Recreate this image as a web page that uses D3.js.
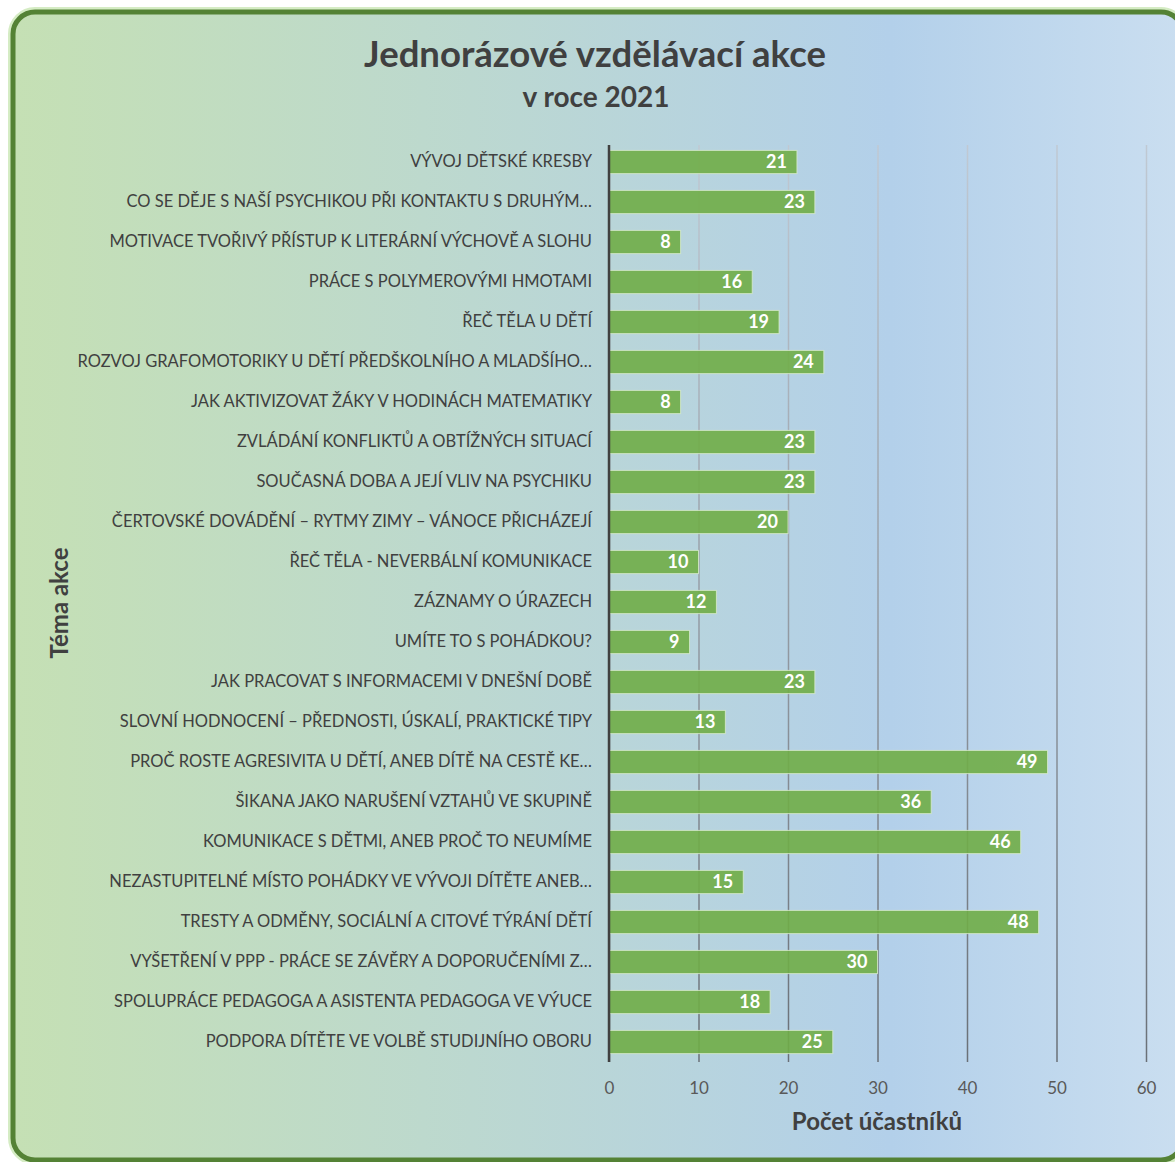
<!DOCTYPE html>
<html>
<head>
<meta charset="utf-8">
<script src="https://cdn.jsdelivr.net/npm/d3@7"></script>
<style>
  body { margin: 0; background: #fff; }
  svg { display: block; }
</style>
</head>
<body>
<div id="chart"></div>
<script>
const topics = [
    'VÝVOJ DĚTSKÉ KRESBY',
    'CO SE DĚJE S NAŠÍ PSYCHIKOU PŘI KONTAKTU S DRUHÝM…',
    'MOTIVACE TVOŘIVÝ PŘÍSTUP K LITERÁRNÍ VÝCHOVĚ A SLOHU',
    'PRÁCE S POLYMEROVÝMI HMOTAMI',
    'ŘEČ TĚLA U DĚTÍ',
    'ROZVOJ GRAFOMOTORIKY U DĚTÍ PŘEDŠKOLNÍHO A MLADŠÍHO…',
    'JAK AKTIVIZOVAT ŽÁKY V HODINÁCH MATEMATIKY',
    'ZVLÁDÁNÍ KONFLIKTŮ A OBTÍŽNÝCH SITUACÍ',
    'SOUČASNÁ DOBA A JEJÍ VLIV NA PSYCHIKU',
    'ČERTOVSKÉ DOVÁDĚNÍ – RYTMY ZIMY – VÁNOCE PŘICHÁZEJÍ',
    'ŘEČ TĚLA - NEVERBÁLNÍ KOMUNIKACE',
    'ZÁZNAMY O ÚRAZECH',
    'UMÍTE TO S POHÁDKOU?',
    'JAK PRACOVAT S INFORMACEMI V DNEŠNÍ DOBĚ',
    'SLOVNÍ HODNOCENÍ – PŘEDNOSTI, ÚSKALÍ, PRAKTICKÉ TIPY',
    'PROČ ROSTE AGRESIVITA U DĚTÍ, ANEB DÍTĚ NA CESTĚ KE…',
    'ŠIKANA JAKO NARUŠENÍ VZTAHŮ VE SKUPINĚ',
    'KOMUNIKACE S DĚTMI, ANEB PROČ TO NEUMÍME',
    'NEZASTUPITELNÉ MÍSTO POHÁDKY VE VÝVOJI DÍTĚTE ANEB…',
    'TRESTY A ODMĚNY, SOCIÁLNÍ A CITOVÉ TÝRÁNÍ DĚTÍ',
    'VYŠETŘENÍ V PPP - PRÁCE SE ZÁVĚRY A DOPORUČENÍMI Z…',
    'SPOLUPRÁCE PEDAGOGA A ASISTENTA PEDAGOGA VE VÝUCE',
    'PODPORA DÍTĚTE VE VOLBĚ STUDIJNÍHO OBORU'
];
const participants = [21, 23, 8, 16, 19, 24, 8, 23, 23, 20, 10, 12, 9, 23, 13, 49, 36, 46, 15, 48, 30, 18, 25];
const xTicks = [0, 10, 20, 30, 40, 50, 60];

const titleText = 'Jednorázové vzdělávací akce';
const subtitleText = 'v roce 2021';
const xTitle = 'Počet účastníků';
const yTitle = 'Téma akce';

const W = 1175, H = 1162;
const plot = { left: 609, right: 1146, top: 142, bottom: 1062 };
const gridTop = 145;
const font = 'Lato, "Open Sans", sans-serif';

const svg = d3.select('#chart').append('svg')
    .attr('width', W)
    .attr('height', H);

const defs = svg.append('defs');

// background gradient of the card
const bg = defs.append('linearGradient')
    .attr('id', 'bgGrad')
    .attr('x1', '0%').attr('y1', '0%')
    .attr('x2', '100%').attr('y2', '0%');
bg.append('stop').attr('offset', '0%').attr('stop-color', '#c5e0b4');
bg.append('stop').attr('offset', '35%').attr('stop-color', '#bdd9cd');
bg.append('stop').attr('offset', '75%').attr('stop-color', '#b3d0ea');
bg.append('stop').attr('offset', '100%').attr('stop-color', '#cadef0');

// gridlines get darker towards the bottom (tick-local coordinates)
const gg = defs.append('linearGradient')
    .attr('id', 'gridGrad')
    .attr('gradientUnits', 'userSpaceOnUse')
    .attr('x1', 0).attr('y1', -(plot.bottom - gridTop))
    .attr('x2', 0).attr('y2', 0);
gg.append('stop').attr('offset', '0%').attr('stop-color', '#c0c9d3');
gg.append('stop').attr('offset', '100%').attr('stop-color', '#6a7077');

// soft glow + card
svg.append('rect')
    .attr('x', 13).attr('y', 12)
    .attr('width', 1170).attr('height', 1148)
    .attr('rx', 22)
    .attr('fill', 'none')
    .attr('stroke', '#d5ecc4')
    .attr('stroke-width', 10);

svg.append('rect')
    .attr('x', 13).attr('y', 12)
    .attr('width', 1170).attr('height', 1148)
    .attr('rx', 22)
    .attr('fill', 'url(#bgGrad)')
    .attr('stroke', '#548235')
    .attr('stroke-width', 5);

// scales
const x = d3.scaleLinear()
    .domain([0, 60])
    .range([plot.left, plot.right]);

const y = d3.scaleBand()
    .domain(topics)
    .range([plot.top, plot.bottom])
    .paddingInner(0.42)
    .paddingOuter(0.21);

const data = topics.map((t, i) => ({ topic: t, value: participants[i] }));

// x axis with gridlines (behind the bars)
const xAxis = svg.append('g')
    .attr('transform', `translate(0, ${plot.bottom})`)
    .call(d3.axisBottom(x)
        .tickValues(xTicks)
        .tickSize(-(plot.bottom - gridTop))
        .tickPadding(20));
xAxis.select('.domain').remove();
xAxis.selectAll('.tick line')
    .attr('stroke', 'url(#gridGrad)')
    .attr('stroke-width', 1.5);
xAxis.selectAll('.tick text')
    .attr('fill', '#595959')
    .style('font-family', font)
    .style('font-size', '17px');

// bars
svg.append('g').selectAll('rect')
    .data(data)
    .enter()
    .append('rect')
    .attr('x', x(0))
    .attr('y', d => y(d.topic))
    .attr('width', d => x(d.value) - x(0))
    .attr('height', y.bandwidth())
    .attr('fill', '#70ad47')
    .attr('fill-opacity', 0.9)
    .attr('stroke', '#d9ecd0')
    .attr('stroke-opacity', 0.8)
    .attr('stroke-width', 1);

// y axis
const yAxis = svg.append('g')
    .attr('transform', `translate(${plot.left}, 0)`)
    .call(d3.axisLeft(y).tickSize(0).tickSizeOuter(0).tickPadding(17));
yAxis.select('.domain')
    .attr('stroke', '#404040')
    .attr('stroke-width', 2.5)
    .attr('d', `M0,${gridTop}V${plot.bottom}`);
yAxis.selectAll('.tick text')
    .attr('fill', '#404040')
    .style('font-family', font)
    .style('font-size', '16.5px');

// value labels
svg.append('g').selectAll('text')
    .data(data)
    .enter()
    .append('text')
    .attr('x', d => x(d.value) - 10)
    .attr('y', d => y(d.topic) + y.bandwidth() / 2)
    .attr('dy', '0.36em')
    .attr('text-anchor', 'end')
    .attr('fill', '#ffffff')
    .style('font-family', font)
    .style('font-weight', 'bold')
    .style('font-size', '18px')
    .text(d => d.value);

// titles
svg.append('text')
    .attr('x', 595).attr('y', 67)
    .attr('text-anchor', 'middle')
    .attr('fill', '#404040')
    .style('font-family', font)
    .style('font-weight', 'bold')
    .style('font-size', '36.5px')
    .text(titleText);

svg.append('text')
    .attr('x', 596).attr('y', 107)
    .attr('text-anchor', 'middle')
    .attr('fill', '#404040')
    .style('font-family', font)
    .style('font-weight', 'bold')
    .style('font-size', '28px')
    .text(subtitleText);

svg.append('text')
    .attr('x', 877).attr('y', 1130)
    .attr('text-anchor', 'middle')
    .attr('fill', '#404040')
    .style('font-family', font)
    .style('font-weight', 'bold')
    .style('font-size', '24px')
    .text(xTitle);

svg.append('text')
    .attr('transform', 'translate(68, 603) rotate(-90)')
    .attr('text-anchor', 'middle')
    .attr('fill', '#404040')
    .style('font-family', font)
    .style('font-weight', 'bold')
    .style('font-size', '24px')
    .text(yTitle);
</script>
</body>
</html>
